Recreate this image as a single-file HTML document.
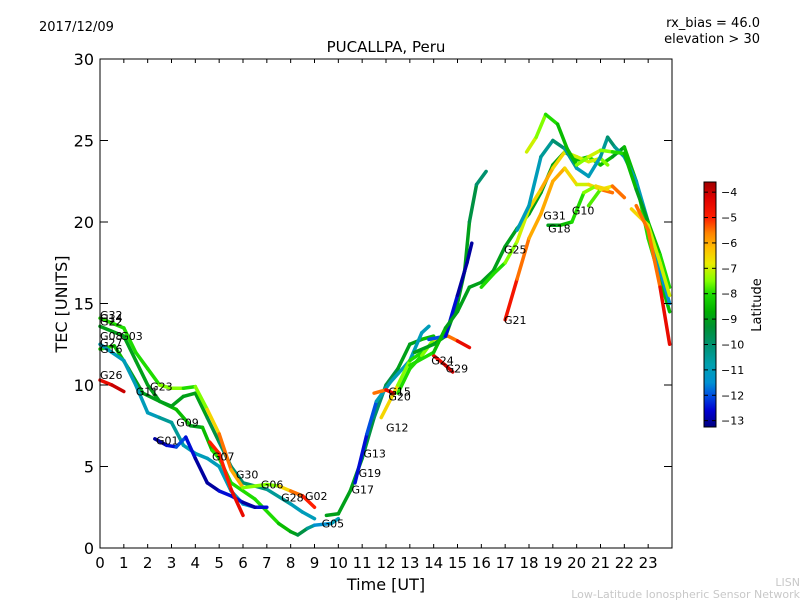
<!DOCTYPE html>
<html><head><meta charset="utf-8"><style>
body{margin:0;background:#fff;font-family:"Liberation Sans","DejaVu Sans",sans-serif}
svg text{font-family:"DejaVu Sans","Liberation Sans",sans-serif}
</style></head><body>
<svg id="c" width="800" height="600" xmlns="http://www.w3.org/2000/svg">
<rect width="800" height="600" fill="#fff"/>
<text x="39" y="31" font-size="13">2017/12/09</text>
<text x="760" y="27" font-size="13" text-anchor="end">rx_bias = 46.0</text>
<text x="760" y="43" font-size="13" text-anchor="end">elevation &gt; 30</text>
<text x="386" y="52" font-size="15" text-anchor="middle">PUCALLPA, Peru</text>
<text x="386" y="590" font-size="16" text-anchor="middle">Time [UT]</text>
<text transform="translate(67,304) rotate(-90)" font-size="16" text-anchor="middle">TEC [UNITS]</text>
<text x="800" y="586" font-size="11" fill="#c8c8c8" text-anchor="end">LISN</text>
<text x="800" y="598" font-size="11" fill="#c8c8c8" text-anchor="end">Low-Latitude Ionospheric Sensor Network</text>
<g id="plot"></g>
<defs><linearGradient id="jet" x1="0" y1="0" x2="0" y2="1"></linearGradient></defs>
</svg>
<script>
const xTicks=[0,1,2,3,4,5,6,7,8,9,10,11,12,13,14,15,16,17,18,19,20,21,22,23];
const yTicks=[0,5,10,15,20,25,30];
const cbTicks=[-4,-5,-6,-7,-8,-9,-10,-11,-12,-13];
// tracks: each point [time UT, TEC, latitude]
const trackA=[[0,14.1,-8],[1,13.5,-8],[1.5,12,-8],[2,11,-8],[2.5,10,-8],[3,9.8,-7],[3.5,9.8,-8],[4,9.9,-8],[4.5,8.5,-7],[5,7,-6],[5.5,4.8,-5],[6,3.7,-7],[7,3.9,-8],[7.5,3.8,-7],[8,3.5,-6],[8.5,3.2,-5],[9,2.5,-5]];
const trackB=[[0,13.6,-9],[1,13,-9],[1.5,11.5,-9],[2,10,-9],[2.5,9,-9],[3,8.7,-9],[3.5,9.3,-9],[4,9.5,-9],[4.5,8,-9],[5,6.5,-10],[5.5,5,-10],[6,4,-10],[7,3.6,-10],[8,2.7,-11],[8.5,2.2,-11],[9,1.8,-11]];
const trackC=[[0,12.5,-11],[1,11.5,-11],[1.5,10,-11],[2,8.3,-11],[2.5,8,-11],[3,7.7,-10],[3.5,6.3,-11],[4,5.8,-11],[4.5,5.5,-11],[5,5,-11],[5.5,3.5,-11],[6,2.7,-11],[6.5,2.5,-12],[7,2.5,-13]];
const trackD=[[2.3,6.7,-13],[2.8,6.3,-13],[3.2,6.2,-12],[3.6,6.8,-12],[4,5.5,-13],[4.5,4,-13],[5,3.5,-13],[5.5,3.2,-12],[6,2.8,-13],[6.5,2.5,-13]];
const trackE=[[0,12.2,-8],[0.6,12.4,-8],[1.2,11,-9],[1.8,9.5,-9],[2.5,9,-9],[3.2,8.5,-8],[3.8,7.5,-9],[4.3,7.4,-9],[4.7,6,-8],[5,5.5,-8],[5.5,4,-8],[6.5,3,-8],[7.5,1.5,-8],[8,1,-9],[8.3,0.8,-9],[8.7,1.2,-10],[9,1.4,-11],[9.7,1.5,-12],[10,1.8,-10]];
const trackF=[[0,10.3,-5],[0.5,10,-4],[1,9.6,-4]];
const trackG=[[9.5,2,-9],[10,2.1,-9],[10.5,3.5,-9],[11,5.5,-9],[11.5,8,-10],[12,10,-10],[12.5,11,-9],[13,12.5,-9],[13.5,12.8,-9],[14,13,-8]];
const trackH=[[10.7,4,-12],[11.2,7,-13],[11.6,9,-11],[12.2,10.2,-11],[13,11.5,-11],[13.5,13.2,-11],[13.8,13.6,-11]];
const trackI=[[13.2,12,-9],[14,12.5,-9],[14.5,13,-9],[15,15,-9],[15.3,17,-9],[15.5,20,-9],[15.8,22.3,-10],[16.2,23.1,-10]];
const trackJ=[[13.8,12.8,-12],[14.5,13,-12],[15,15.5,-13],[15.4,17.5,-13],[15.6,18.7,-13]];
const trackK=[[13,11.2,-8],[14,12,-8],[14.5,13.5,-9],[15,14.5,-9],[15.5,16,-9],[16,16.3,-9],[16.5,17,-9],[17,18.5,-9],[17.5,19.6,-9],[18,20.5,-9],[18.5,21.8,-9],[19,23.5,-9],[19.5,24.3,-9],[20,23.8,-9],[20.5,24,-8],[21,23.5,-8],[21.5,24,-9],[22,24.6,-9],[22.5,22.5,-8],[23,19,-8],[23.5,16.5,-8],[23.9,14.5,-9]];
const trackL=[[17.5,19.5,-11],[18,21,-11],[18.5,24,-11],[19,25,-10],[19.5,24.5,-10],[20,23.3,-11],[20.5,22.8,-11],[21,24,-11],[21.3,25.2,-10],[21.6,24.6,-10],[22,24,-11],[22.5,22.5,-11],[23,20,-11],[23.5,17,-11],[23.9,15,-12]];
const trackM=[[17.9,24.3,-7],[18.3,25.2,-7],[18.7,26.6,-8],[19.2,26,-8],[19.6,24.5,-9],[20,23.5,-8],[20.5,24,-7],[21,24.4,-7],[21.5,24.3,-8],[22,24.2,-8],[22.5,22,-9],[23,20,-9],[23.5,18,-8],[23.9,16,-8]];
const trackN=[[12.5,9.5,-8],[13,11,-8],[13.5,11.8,-8],[14,12.8,-7],[14.6,13,-6],[15,12.7,-5],[15.5,12.3,-4]];
const trackO=[[16,16,-8],[16.5,16.8,-8],[17,17.5,-8],[17.5,18.8,-7],[18,20.8,-7],[18.5,22,-6],[19,23.3,-6],[19.5,24.3,-7],[20,24,-7],[20.5,23.7,-7],[21,23.9,-7],[21.3,23.5,-8]];
const trackP=[[17,14,-4.5],[17.5,16.5,-5],[18,19,-6],[18.5,20.5,-6],[19,22.5,-6],[19.5,23.3,-6],[20,22.3,-7],[20.5,22.3,-7],[21,22,-6],[21.5,21.8,-5]];
const trackQ=[[20.5,21,-8],[21,22,-7.5],[21.5,22.2,-6],[22,21.5,-5]];
const trackR=[[22.3,20.8,-6],[23,19.8,-7],[23.5,17.5,-7],[23.9,15.5,-7]];
const trackS=[[22.5,21,-5],[23,19.5,-6],[23.5,16,-5],[23.9,12.5,-4]];
const trackT=[[11.8,8,-6],[12.5,10,-7],[13,11.5,-8],[13.5,12,-8]];
const trackU=[[11.5,9.5,-6],[12,9.7,-5],[12.3,9.5,-4]];
const trackV=[[14,11.8,-5],[14.5,11.2,-4],[14.8,10.8,-4]];
const trackW=[[18.8,19.8,-9],[19.3,19.8,-9],[19.8,20,-8],[20.3,21.8,-8],[20.8,22.2,-7],[21.3,22,-6]];
const trackX=[[4.6,6.5,-5],[5,5.8,-5],[5.5,3.6,-5],[6,2,-4]];
const tracks=[trackE,trackC,trackD,trackB,trackA,trackF,trackX,trackG,trackH,trackT,trackU,trackN,trackV,trackI,trackJ,trackK,trackO,trackL,trackM,trackP,trackQ,trackW,trackR,trackS];
const labelNames=["G32","G14","G22","G08","G03","G27","G16","G26","G11","G23","G09","G01","G07","G30","G06","G28","G02","G05","G17","G19","G13","G12","G15","G20","G24","G29","G21","G25","G31","G18","G10"];
const labelTimes=[0,0,0,0,0.85,0,0,0,1.5,2.1,3.2,2.35,4.7,5.7,6.75,7.6,8.6,9.3,10.55,10.85,11.05,12,12.1,12.1,13.9,14.5,16.95,16.95,18.6,18.8,19.8];
const labelTecs=[14.3,14.1,13.9,13,13,12.6,12.2,10.6,9.6,9.9,7.7,6.6,5.6,4.5,3.9,3.1,3.2,1.5,3.6,4.6,5.8,7.4,9.6,9.3,11.5,11,14,18.3,20.4,19.6,20.7];

const L=100,R=672,T=59,B=548;
const xs=t=>L+t/24*(R-L);
const ys=v=>B-v/30*(B-T);
const cbTop=182,cbBot=427,cbMax=-3.6,cbMin=-13.25;
const cbY=v=>cbTop+(cbMax-v)/(cbMax-cbMin)*(cbBot-cbTop);
const cmap=[[-3.6,[160,0,0]],[-4.2,[220,0,0]],[-5,[255,30,0]],[-5.6,[255,130,0]],[-6.2,[255,190,0]],[-6.8,[235,235,0]],[-7.5,[130,255,0]],[-8,[30,220,0]],[-8.7,[0,175,0]],[-9.3,[0,145,50]],[-10,[0,145,110]],[-10.8,[0,160,175]],[-11.5,[0,145,210]],[-12,[0,80,225]],[-12.6,[0,0,210]],[-13.25,[0,0,128]]];
function jet(lat){
  if(lat>=cmap[0][0])return `rgb(${cmap[0][1]})`;
  for(let i=0;i<cmap.length-1;i++){
    const a=cmap[i],b=cmap[i+1];
    if(lat<=a[0]&&lat>=b[0]){const f=(a[0]-lat)/(a[0]-b[0]);return 'rgb('+a[1].map((v,k)=>Math.round(v+(b[1][k]-v)*f)).join(',')+')';}
  }
  return `rgb(${cmap[cmap.length-1][1]})`;
}
const NS="http://www.w3.org/2000/svg";
const svg=document.getElementById('c');
function mk(tag,attrs,parent){const e=document.createElementNS(NS,tag);for(const k in attrs)e.setAttribute(k,attrs[k]);(parent||svg).appendChild(e);return e;}
const grad=document.getElementById('jet');
cmap.forEach(s=>mk('stop',{offset:(cbMax-s[0])/(cbMax-cbMin),'stop-color':'rgb('+s[1].join(',')+')'},grad));
const g=document.getElementById('plot');
tracks.forEach((tr,i)=>{
  const tg=mk('g',{},g);
  
  
  for(let j=0;j<tr.length-1;j++){
    const a=tr[j],b=tr[j+1];
    const s=mk('line',{x1:xs(a[0]),y1:ys(a[1]),x2:xs(b[0]),y2:ys(b[1]),stroke:jet((a[2]+b[2])/2),'stroke-width':3.5,'stroke-linecap':'round'},tg);
    
    
  }
});
labelNames.forEach((n,i)=>{
  const t=mk('text',{x:xs(labelTimes[i]),y:ys(labelTecs[i])+4,'font-size':11},g);
  t.textContent=n;
  
  
});
const frame=mk('rect',{x:L,y:T,width:R-L,height:B-T,fill:'none',stroke:'#000','stroke-width':1});


xTicks.forEach(v=>{
  const x=xs(v);
  const tk=mk('line',{x1:x,y1:B,x2:x,y2:B-4,stroke:'#000'});
  
  
  mk('line',{x1:x,y1:T,x2:x,y2:T+4,stroke:'#000'});
  const t=mk('text',{x:x,y:B+20,'font-size':15,'text-anchor':'middle'});
  t.textContent=v;
  
  
});
yTicks.forEach(v=>{
  const y=ys(v);
  const tk=mk('line',{x1:L,y1:y,x2:L+8,y2:y,stroke:'#000'});
  
  
  mk('line',{x1:R,y1:y,x2:R-8,y2:y,stroke:'#000'});
  const t=mk('text',{x:L-6,y:y+6,'font-size':16,'text-anchor':'end'});
  t.textContent=v;
  
  
});
const cb=mk('rect',{x:704,y:cbTop,width:12,height:cbBot-cbTop,fill:'url(#jet)',stroke:'#000'});


cbTicks.forEach(v=>{
  const y=cbY(v);
  mk('line',{x1:704,y1:y,x2:708,y2:y,stroke:'#000'});
  mk('line',{x1:716,y1:y,x2:712,y2:y,stroke:'#000'});
  const t=mk('text',{x:721,y:y+4,'font-size':11});
  t.textContent='\u2212'+Math.abs(v);
  
  
});
const ct=mk('text',{transform:'translate(761,305) rotate(-90)','font-size':13,'text-anchor':'middle'});
ct.textContent='Latitude';


</script>
</body></html>
